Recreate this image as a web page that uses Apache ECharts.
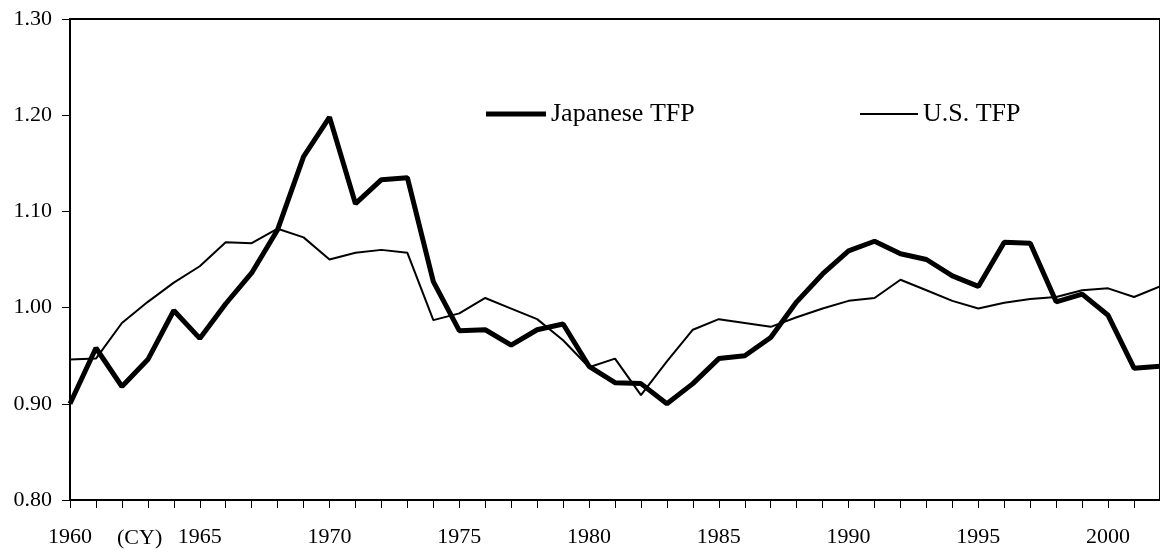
<!DOCTYPE html>
<html>
<head>
<meta charset="utf-8">
<script src="https://cdn.jsdelivr.net/npm/echarts@6/dist/echarts.min.js"></script>
<style>
html, body { margin: 0; padding: 0; background: #fff; }
#chart { width: 1160px; height: 557px; }
</style>
</head>
<body>
<div id="chart"></div>
<script>
var years = [];
for (var y = 1960; y <= 2002; y++) years.push(y);

var japanTFP = [0.900, 0.958, 0.918, 0.946, 0.997, 0.968, 1.004, 1.036, 1.081, 1.157,
    1.198, 1.108, 1.133, 1.135, 1.027, 0.976, 0.977, 0.961, 0.977, 0.983,
    0.939, 0.922, 0.921, 0.900, 0.921, 0.947, 0.950, 0.969, 1.006, 1.035,
    1.059, 1.069, 1.056, 1.050, 1.033, 1.022, 1.068, 1.067, 1.006, 1.014,
    0.992, 0.937, 0.939];

var usTFP = [0.946, 0.947, 0.984, 1.006, 1.026, 1.043, 1.068, 1.067, 1.082, 1.073,
    1.050, 1.057, 1.060, 1.057, 0.987, 0.994, 1.010, 0.999, 0.988, 0.966,
    0.938, 0.947, 0.909, 0.944, 0.977, 0.988, 0.984, 0.980, 0.990, 0.999,
    1.007, 1.010, 1.029, 1.018, 1.007, 0.999, 1.005, 1.009, 1.011, 1.018,
    1.020, 1.011, 1.022];

var font = "'Liberation Serif', 'Times New Roman', serif";

function pairs(vals) {
    var out = [];
    for (var i = 0; i < years.length; i++) out.push([years[i], vals[i]]);
    return out;
}

var chart = echarts.init(document.getElementById('chart'));
var option = {
    animation: false,
    backgroundColor: '#fff',
    grid: {
        left: 70,
        top: 19,
        width: 1092,
        bottom: 57,
        show: true,
        borderColor: '#000',
        borderWidth: 2
    },
    legend: [{
        data: ['Japanese TFP'],
        left: 486,
        top: 101,
        padding: 0,
        icon: 'rect',
        itemWidth: 60,
        itemHeight: 5,
        itemGap: 0,
        textStyle: { fontFamily: font, fontSize: 26, color: '#000' }
    }, {
        data: ['U.S. TFP'],
        left: 860,
        top: 101,
        padding: 0,
        icon: 'rect',
        itemWidth: 58,
        itemHeight: 2,
        itemGap: 0,
        textStyle: { fontFamily: font, fontSize: 26, color: '#000' }
    }],
    xAxis: {
        type: 'value',
        min: 1960,
        max: 2002,
        interval: 1,
        splitLine: { show: false },
        axisLine: { lineStyle: { color: '#000', width: 2 } },
        axisTick: { length: 8, lineStyle: { color: '#000', width: 1 } },
        axisLabel: {
            margin: 26,
            color: '#000',
            fontFamily: font,
            fontSize: 22,
            showMaxLabel: false,
            formatter: function (v) { return v % 5 === 0 ? String(v) : ''; }
        }
    },
    yAxis: {
        type: 'value',
        min: 0.8,
        max: 1.3,
        interval: 0.1,
        splitLine: { show: false },
        axisLine: { show: true, lineStyle: { color: '#000', width: 2 } },
        axisTick: { show: true, length: 8, lineStyle: { color: '#000', width: 1 } },
        axisLabel: {
            margin: 18,
            color: '#000',
            fontFamily: font,
            fontSize: 22,
            formatter: function (v) { return v.toFixed(2); }
        }
    },
    graphic: [{
        type: 'text',
        left: 117,
        top: 527,
        style: { text: '(CY)', fontFamily: font, fontSize: 22, fill: '#000' }
    }],
    series: [{
        name: 'Japanese TFP',
        type: 'line',
        data: pairs(japanTFP),
        symbol: 'none',
        itemStyle: { color: '#000' },
        lineStyle: { color: '#000', width: 5 }
    }, {
        name: 'U.S. TFP',
        type: 'line',
        data: pairs(usTFP),
        symbol: 'none',
        itemStyle: { color: '#000' },
        lineStyle: { color: '#000', width: 2 }
    }]
};
chart.setOption(option);
window.addEventListener('resize', function () {
    chart.resize();
});
</script>
</body>
</html>
